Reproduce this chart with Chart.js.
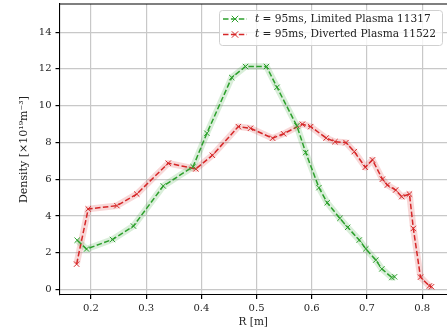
<!DOCTYPE html>
<html>
<head>
<meta charset="utf-8">
<script src="https://cdn.jsdelivr.net/npm/chart.js@4/dist/chart.umd.min.js"></script>
<style>
  html, body { margin: 0; padding: 0; background: #fff; }
  canvas { display: block; }
</style>
</head>
<body>
<canvas id="density-chart" width="447" height="333"></canvas>
<script>
// radial density profiles at t = 95ms
const limitedLabel = 't = 95ms, Limited Plasma 11317';
const limitedR = [0.175, 0.192, 0.239, 0.277, 0.331, 0.385, 0.410, 0.455, 0.480, 0.518, 0.537, 0.573,
  0.589, 0.613, 0.628, 0.651, 0.665, 0.686, 0.698, 0.716, 0.727, 0.745, 0.750];
const limitedDensity = [2.68, 2.20, 2.72, 3.45, 5.63, 6.68, 8.50, 11.53, 12.13, 12.13, 11.00, 8.90,
  7.45, 5.54, 4.72, 3.87, 3.38, 2.69, 2.21, 1.60, 1.12, 0.65, 0.69];

const divertedLabel = 't = 95ms, Diverted Plasma 11522';
const divertedR = [0.174, 0.195, 0.247, 0.283, 0.340, 0.390, 0.420, 0.467, 0.489, 0.529, 0.549, 0.583,
  0.598, 0.626, 0.642, 0.662, 0.677, 0.697, 0.710, 0.728, 0.737, 0.752, 0.763, 0.777, 0.784, 0.797,
  0.813, 0.817];
const divertedDensity = [1.38, 4.38, 4.56, 5.19, 6.87, 6.56, 7.30, 8.86, 8.77, 8.23, 8.47, 8.99,
  8.86, 8.24, 8.04, 7.99, 7.50, 6.65, 7.05, 6.00, 5.68, 5.41, 5.05, 5.19, 3.32, 0.67,
  0.19, 0.15];

const xTicks = [0.2, 0.3, 0.4, 0.5, 0.6, 0.7, 0.8];
const yTicks = [0, 2, 4, 6, 8, 10, 12, 14];

const GREEN = '#2ca02c';
const RED = '#d62728';
const FONT = "'DejaVu Serif', serif";

function points(xs, ys) {
  return xs.map((x, i) => ({ x: x, y: ys[i] }));
}

function profile(label, xs, ys, color) {
  return {
    label: label,
    data: points(xs, ys),
    borderColor: color,
    borderWidth: 1.5,
    borderDash: [5.5, 2.4],
    pointStyle: 'crossRot',
    pointRadius: 3.8,
    pointBorderWidth: 1,
    pointBorderColor: color,
    backgroundColor: color,
    order: 1
  };
}

// soft band drawn underneath each profile
function band(xs, ys, color) {
  return {
    label: '',
    data: points(xs, ys),
    borderColor: color,
    borderWidth: 6.5,
    pointRadius: 0,
    borderJoinStyle: 'round',
    order: 2
  };
}

// no automatic padding for tick labels, the plot area is placed by hand
function noPad(axis) {
  axis.paddingTop = 0;
  axis.paddingBottom = 0;
  axis.paddingLeft = 0;
  axis.paddingRight = 0;
}

const frame = {
  id: 'frame',
  afterDraw(chart) {
    const ctx = chart.ctx;
    const a = chart.chartArea;
    ctx.save();
    ctx.strokeStyle = '#000';
    ctx.lineWidth = 1.1;
    ctx.beginPath();
    ctx.moveTo(a.left, a.top);
    ctx.lineTo(a.right, a.top);
    ctx.stroke();
    ctx.restore();

    // legend box
    const bx = 219.5, by = 10.5, bw = 223, bh = 35;
    ctx.save();
    ctx.fillStyle = 'rgba(255,255,255,0.8)';
    ctx.strokeStyle = '#d0d0d0';
    ctx.lineWidth = 1;
    ctx.beginPath();
    ctx.roundRect(bx, by, bw, bh, 3);
    ctx.fill();
    ctx.stroke();

    const entries = [[limitedLabel, GREEN, 19], [divertedLabel, RED, 34.5]];
    entries.forEach(([label, color, y]) => {
      ctx.strokeStyle = color;
      ctx.lineWidth = 1.5;
      ctx.setLineDash([5.5, 2.4]);
      ctx.beginPath();
      ctx.moveTo(223, y);
      ctx.lineTo(247, y);
      ctx.stroke();
      ctx.setLineDash([]);
      ctx.lineWidth = 1;
      const m = 3.2, cx = 235;
      ctx.beginPath();
      ctx.moveTo(cx - m, y - m); ctx.lineTo(cx + m, y + m);
      ctx.moveTo(cx - m, y + m); ctx.lineTo(cx + m, y - m);
      ctx.stroke();

      ctx.fillStyle = '#222';
      ctx.textBaseline = 'middle';
      ctx.font = 'italic 10.5px ' + FONT;
      ctx.fillText(label[0], 255, y);
      const w = ctx.measureText(label[0]).width;
      ctx.font = '10.6px ' + FONT;
      ctx.fillText(label.slice(1), 255 + w, y);
    });
    ctx.restore();
  }
};

new Chart(document.getElementById('density-chart'), {
  type: 'line',
  data: {
    datasets: [
      band(limitedR, limitedDensity, 'rgba(44,160,44,0.18)'),
      band(divertedR, divertedDensity, 'rgba(214,39,40,0.18)'),
      profile(limitedLabel, limitedR, limitedDensity, GREEN),
      profile(divertedLabel, divertedR, divertedDensity, RED)
    ]
  },
  options: {
    responsive: false,
    devicePixelRatio: 1,
    animation: false,
    layout: { autoPadding: false, padding: { top: 4, right: 0, left: 0, bottom: 0 } },
    plugins: {
      legend: { display: false },
      tooltip: { enabled: false }
    },
    scales: {
      x: {
        type: 'linear',
        min: 0.143,
        max: 0.845,
        afterBuildTicks: axis => { axis.ticks = xTicks.map(v => ({ value: v })); },
        afterFit: axis => { noPad(axis); axis.height = 38; },
        grid: { color: '#c8c8c8', lineWidth: 1.2, tickColor: '#000', tickLength: 4 },
        border: { color: '#000', width: 1.1 },
        ticks: {
          color: '#222', padding: 3,
          font: { family: FONT, size: 10 },
          callback: v => v.toFixed(1)
        },
        title: {
          display: true, text: 'R [m]', color: '#222', padding: { top: 1, bottom: 4 },
          font: { family: FONT, size: 10.5 }
        }
      },
      y: {
        type: 'linear',
        min: -0.3,
        max: 15.53,
        afterBuildTicks: axis => { axis.ticks = yTicks.map(v => ({ value: v })); },
        afterFit: axis => { noPad(axis); axis.width = 59.5; },
        grid: { color: '#c8c8c8', lineWidth: 1.2, tickColor: '#000', tickLength: 4 },
        border: { color: '#000', width: 1.1 },
        ticks: {
          color: '#222', padding: 4,
          font: { family: FONT, size: 10 }
        },
        title: {
          display: true, text: 'Density [×10¹⁹m⁻³]', color: '#222', padding: { top: 18, bottom: 0 },
          font: { family: FONT, size: 11 }
        }
      }
    }
  },
  plugins: [frame]
});
</script>
</body>
</html>
